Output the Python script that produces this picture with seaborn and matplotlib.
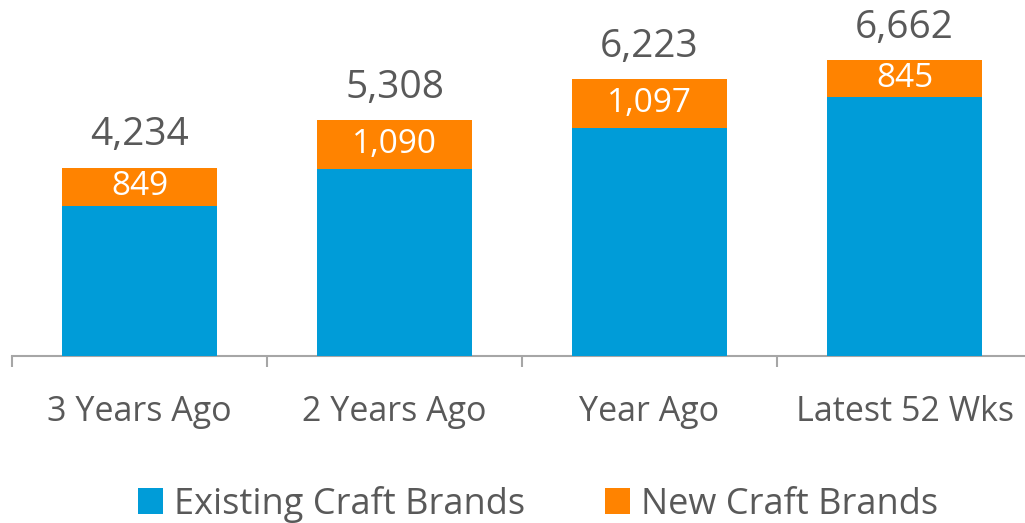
import matplotlib
matplotlib.use("Agg")
import matplotlib.pyplot as plt
from matplotlib.patches import Patch
import seaborn as sns
import pandas as pd

categories = ["3 Years Ago", "2 Years Ago", "Year Ago", "Latest 52 Wks"]
existing_brands = [3385, 4218, 5126, 5817]
new_brands = [849, 1090, 1097, 845]
series_names = ["Existing Craft Brands", "New Craft Brands"]

BLUE = "#009CD8"
ORANGE = "#FF8300"
TEXT = "#595959"
AXIS = "#A6A6A6"

totals = [e + n for e, n in zip(existing_brands, new_brands)]
df = pd.DataFrame({"category": categories, "existing": existing_brands,
                   "new": new_brands, "total": totals})

sns.set_theme(style="white")
plt.rcParams["font.family"] = ["Open Sans", "DejaVu Sans"]

fig = plt.figure(figsize=(10.25, 5.23), dpi=100)
ax = fig.add_axes([12 / 1025, 167 / 523, 1020 / 1025, 356 / 523])

# Full-height orange bars, then the existing share drawn over them in blue
sns.barplot(data=df, x="category", y="total", color=ORANGE, width=0.61,
            saturation=1, ax=ax, zorder=2, linewidth=0)
sns.barplot(data=df, x="category", y="existing", color=BLUE, width=0.61,
            saturation=1, ax=ax, zorder=3, linewidth=0)

ax.set_xlim(-0.5, len(categories) - 0.5)
ax.set_ylim(0, 8010)
ax.set_xlabel("")
ax.set_ylabel("")
ax.set_yticks([])

for i, (e, n, t) in enumerate(zip(existing_brands, new_brands, totals)):
    ax.text(i, e + n / 2, f"{n:,}", ha="center", va="center",
            color="white", fontsize=24, zorder=4)
    ax.text(i, t + 300, f"{t:,}", ha="center", va="bottom",
            color=TEXT, fontsize=28, zorder=4)

for side in ["top", "right", "left"]:
    ax.spines[side].set_visible(False)
ax.spines["bottom"].set_color(AXIS)
ax.spines["bottom"].set_linewidth(1.5)

ax.set_xticks(range(len(categories)))
ax.set_xticklabels(categories, fontsize=24.5, color=TEXT)
ax.set_xticks([i - 0.5 for i in range(len(categories) + 1)], minor=True)
ax.tick_params(axis="x", which="major", bottom=True, length=0, pad=28)
ax.tick_params(axis="x", which="minor", bottom=True, length=8, width=1.5,
               color=AXIS, direction="out")

handles = [Patch(facecolor=BLUE, edgecolor="none"),
           Patch(facecolor=ORANGE, edgecolor="none")]
leg = fig.legend(handles, series_names, loc="center",
                 bbox_to_anchor=(0.525, 0.036), ncol=2, frameon=False,
                 fontsize=26, handlelength=0.7, handleheight=0.7,
                 handletextpad=0.3, columnspacing=2.2)
for txt in leg.get_texts():
    txt.set_color(TEXT)

fig.savefig("out.png", dpi=100)
